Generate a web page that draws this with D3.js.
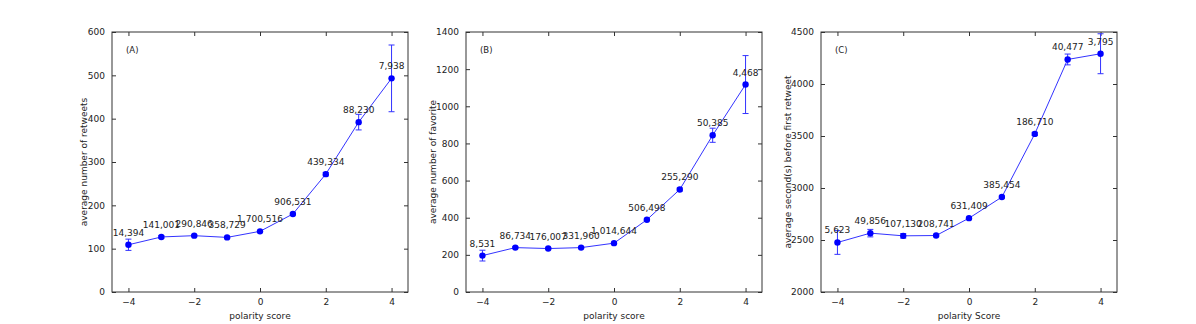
<!DOCTYPE html>
<html>
<head>
<meta charset="utf-8">
<script src="https://cdn.jsdelivr.net/npm/d3@7"></script>
<style>
  body { margin: 0; background: #fff; }
  text { font-family: "DejaVu Sans", sans-serif; }
</style>
</head>
<body>
<script>
var polarity = [-4, -3, -2, -1, 0, 1, 2, 3, 4];

var retweetMean = [109, 127, 130, 126, 140, 180, 272, 392, 493];
var retweetErr  = [13, 3, 2, 2, 2, 2, 4, 18, 77];
var retweetN    = ["14,394", "141,001", "290,846", "358,729", "1,700,516", "906,531", "439,334", "88,230", "7,938"];

var favMean = [196, 239, 234, 239, 263, 389, 552, 844, 1117];
var favErr  = [29, 5, 4, 4, 4, 4, 8, 38, 156];
var favN    = ["8,531", "86,734", "176,007", "331,960", "1,014,644", "506,498", "255,290", "50,385", "4,468"];

var secMean = [2476, 2566, 2540, 2543, 2710, 2913, 3520, 4236, 4291];
var secErr  = [114, 36, 22, 10, 8, 10, 15, 52, 192];
var secN    = ["5,623", "49,856", "107,130", "208,741", "631,409", "385,454", "186,710", "40,477", "3,795"];

var panels = [
  {tag: "(A)", mean: retweetMean, err: retweetErr, n: retweetN, y: [0, 600], ticks: [0, 100, 200, 300, 400, 500, 600],
   ylab: "average number of retweets", xlab: "polarity score", left: 112, ylabX: -25},
  {tag: "(B)", mean: favMean, err: favErr, n: favN, y: [0, 1400], ticks: [0, 200, 400, 600, 800, 1000, 1200, 1400],
   ylab: "average number of favorite", xlab: "polarity score", left: 466, ylabX: -30},
  {tag: "(C)", mean: secMean, err: secErr, n: secN, y: [2000, 4500], ticks: [2000, 2500, 3000, 3500, 4000, 4500],
   ylab: "average second(s) before first retweet", xlab: "polarity Score", left: 821, ylabX: -30}
];

var width = 296, height = 260, marginTop = 32;

var svg = d3.select("body").append("svg")
  .attr("width", 1196)
  .attr("height", 324);

panels.forEach(function(p) {
  var g = svg.append("g").attr("transform", "translate(" + p.left + "," + marginTop + ")");

  var x = d3.scaleLinear().domain([-4.5, 4.5]).range([0, width]);
  var y = d3.scaleLinear().domain(p.y).range([height, 0]);

  // axes, ticks pointing inward like matplotlib classic
  var xt = [-4, -2, 0, 2, 4];
  g.append("g").attr("transform", "translate(0," + height + ")")
    .call(d3.axisBottom(x).tickValues(xt).tickSizeInner(-4).tickSizeOuter(0).tickPadding(7)
      .tickFormat(function(d){ return d < 0 ? "\u2212" + (-d) : d; }));
  g.append("g")
    .call(d3.axisTop(x).tickValues(xt).tickSizeInner(-4).tickSizeOuter(0).tickFormat(""));
  g.append("g")
    .call(d3.axisLeft(y).tickValues(p.ticks).tickSizeInner(-4).tickSizeOuter(0).tickPadding(7)
      .tickFormat(d3.format("d")));
  g.append("g").attr("transform", "translate(" + width + ",0)")
    .call(d3.axisRight(y).tickValues(p.ticks).tickSizeInner(-4).tickSizeOuter(0).tickFormat(""));

  g.selectAll(".domain").remove();
  g.selectAll(".tick line").attr("stroke", "#333");
  g.selectAll(".tick text").attr("font-size", 9).attr("fill", "#222")
    .style("font-family", "DejaVu Sans, sans-serif");

  g.append("rect")
    .attr("width", width).attr("height", height)
    .attr("fill", "none").attr("stroke", "#333").attr("stroke-width", 1);

  var pts = polarity.map(function(v, i) {
    return {x: v, y: p.mean[i], e: p.err[i], n: p.n[i]};
  });

  var clip = "clip" + p.tag.replace(/\W/g, "");
  g.append("clipPath").attr("id", clip)
    .append("rect").attr("width", width).attr("height", height);
  var plot = g.append("g").attr("clip-path", "url(#" + clip + ")");

  // error bars
  var eb = plot.selectAll(".eb").data(pts).enter().append("g").attr("class", "eb")
    .attr("stroke", "#3333ff").attr("stroke-width", 1);
  eb.append("line")
    .attr("x1", function(d){ return x(d.x); }).attr("x2", function(d){ return x(d.x); })
    .attr("y1", function(d){ return y(d.y - d.e); }).attr("y2", function(d){ return y(d.y + d.e); });
  eb.append("line")
    .attr("x1", function(d){ return x(d.x) - 3; }).attr("x2", function(d){ return x(d.x) + 3; })
    .attr("y1", function(d){ return y(d.y - d.e); }).attr("y2", function(d){ return y(d.y - d.e); });
  eb.append("line")
    .attr("x1", function(d){ return x(d.x) - 3; }).attr("x2", function(d){ return x(d.x) + 3; })
    .attr("y1", function(d){ return y(d.y + d.e); }).attr("y2", function(d){ return y(d.y + d.e); });

  plot.append("path").datum(pts)
    .attr("fill", "none").attr("stroke", "#3333ff").attr("stroke-width", 1)
    .attr("d", d3.line().x(function(d){ return x(d.x); }).y(function(d){ return y(d.y); }));

  plot.selectAll("circle").data(pts).enter().append("circle")
    .attr("cx", function(d){ return x(d.x); })
    .attr("cy", function(d){ return y(d.y); })
    .attr("r", 3.2)
    .attr("fill", "#0000ff");

  g.selectAll(".lbl").data(pts).enter().append("text")
    .attr("class", "lbl")
    .attr("x", function(d){ return x(d.x); })
    .attr("y", function(d){ return y(d.y) - 9; })
    .attr("text-anchor", "middle")
    .attr("font-size", 9)
    .attr("fill", "#222")
    .text(function(d){ return d.n; });

  g.append("text").attr("x", 14).attr("y", 21)
    .attr("font-size", 8.5).attr("fill", "#222").text(p.tag);

  g.append("text")
    .attr("x", width / 2).attr("y", height + 27)
    .attr("text-anchor", "middle").attr("font-size", 9).attr("fill", "#222")
    .text(p.xlab);

  g.append("text")
    .attr("transform", "translate(" + p.ylabX + "," + (height / 2) + ") rotate(-90)")
    .attr("text-anchor", "middle").attr("font-size", 9).attr("fill", "#222")
    .text(p.ylab);
});
</script>
</body>
</html>
